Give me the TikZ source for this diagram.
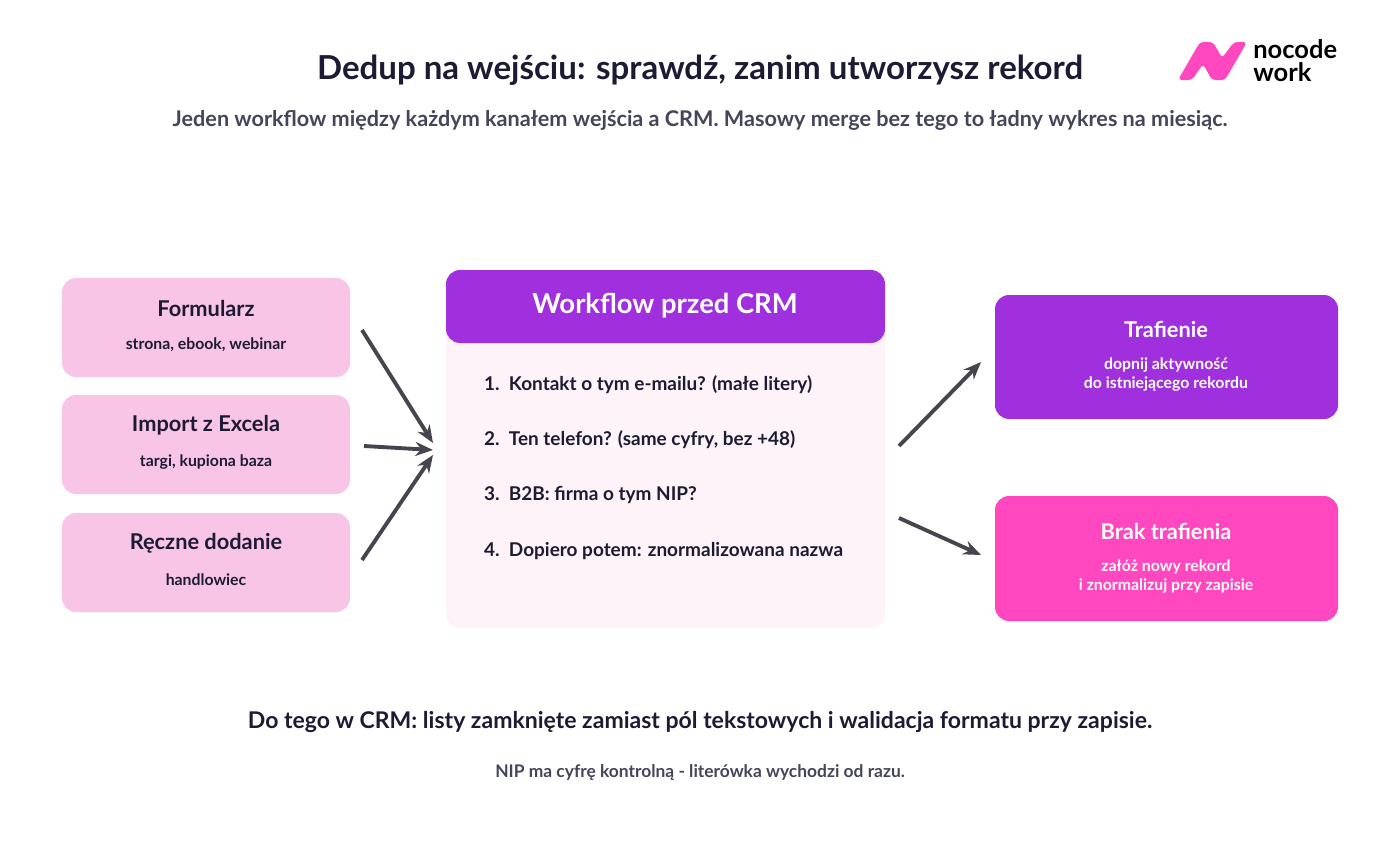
\documentclass[tikz,border=0pt]{standalone}
\usepackage{fontspec}
\setmainfont{Lato}
\usetikzlibrary{arrows.meta}
\definecolor{ink}{HTML}{1C1B33}
\definecolor{grayink}{HTML}{45455A}
\definecolor{softpink}{HTML}{F9C5E6}
\definecolor{bodypink}{HTML}{FDF3F8}
\definecolor{violet}{HTML}{A030DE}
\definecolor{hotpink}{HTML}{FF47BF}
\definecolor{arrowgray}{HTML}{45454F}
\newcommand{\fs}[1]{\fontsize{#1}{1.2\dimexpr #1\relax}\selectfont\bfseries}
\begin{document}
\begin{tikzpicture}[x=0.02cm, y=-0.02cm,
    box/.style={rounded corners=8pt, draw=none},
    flow/.style={-{Stealth[length=10pt,width=8pt]}, line width=2.2pt, draw=arrowgray},
    ttl/.style={font=\fs{12.4pt}, text=ink},
    sub/.style={font=\fs{9pt}, text=ink},
    item/.style={font=\fs{10.8pt}, text=ink, anchor=west}]
  \useasboundingbox[fill=white] (0,0) rectangle (1400,866);
  % header
  \node[font=\fs{18.8pt}, text=ink] (title) at (700,70) {Dedup na wejściu: sprawdź, zanim utworzysz rekord};
  \node[font=\fs{12.3pt}, text=grayink] (subtitle) at (700,120) {Jeden workflow między każdym kanałem wejścia a CRM. Masowy merge bez tego to ładny wykres na miesiąc.};
  % logo
  \fill[hotpink, rounded corners=2pt] (1178,80) -- (1200,42) -- (1213,42) -- (1222,58) -- (1234,42) -- (1247,42)
    -- (1225,80) -- (1212,80) -- (1203,64) -- (1192,80) -- cycle;
  \node[font=\fs{14.5pt}, anchor=west, inner sep=0] (logotop) at (1253,49) {nocode};
  \node[font=\fs{14.5pt}, anchor=west, inner sep=0] (logobot) at (1253,72) {work};
  % sources
  \foreach \n/\y/\t/\s in {form/278/Formularz/{strona, ebook, webinar},
                           excel/395/Import z Excela/{targi, kupiona baza},
                           manual/513/Ręczne dodanie/handlowiec} {
    \fill[box, softpink] (62,\y) rectangle (350,\y+99);
    \node[ttl] (\n) at (206,\y+30) {\t};
    \node[sub] (\n-sub) at (206,\y+67) {\s};
  }
  % workflow
  \fill[box, bodypink] (446,300) rectangle (885,628);
  \fill[box, violet] (446,270) rectangle (885,343);
  \node[font=\fs{15.6pt}, text=white] (wf) at (665,306) {Workflow przed CRM};
  \node[item] (q1) at (478,385) {1.\ \ Kontakt o tym e-mailu? (małe litery)};
  \node[item] (q2) at (478,440) {2.\ \ Ten telefon? (same cyfry, bez +48)};
  \node[item] (q3) at (478,495) {3.\ \ B2B: firma o tym NIP?};
  \node[item] (q4) at (478,551) {4.\ \ Dopiero potem: znormalizowana nazwa};
  % results
  \fill[box, violet] (995,295) rectangle (1338,419);
  \node[ttl, text=white] (hit) at (1166,329) {Trafienie};
  \node[sub, text=white, align=center] (hit-sub) at (1166,375) {dopnij aktywność\\do istniejącego rekordu};
  \fill[box, hotpink] (995,496) rectangle (1338,621);
  \node[ttl, text=white] (miss) at (1166,531) {Brak trafienia};
  \node[sub, text=white, align=center] (miss-sub) at (1166,577) {załóż nowy rekord\\i znormalizuj przy zapisie};
  % connectors
  \coordinate (a1) at (362,330); \coordinate (a2) at (364,446); \coordinate (a3) at (362,560);
  \coordinate (b1) at (433,443); \coordinate (b2) at (433,450); \coordinate (b3) at (433,455);
  \coordinate (c1) at (899,446); \coordinate (c2) at (899,518);
  \coordinate (d1) at (981,362); \coordinate (d2) at (981,555);
  \draw[flow] (a1) -- (b1);
  \draw[flow] (a2) -- (b2);
  \draw[flow] (a3) -- (b3);
  \draw[flow] (c1) -- (d1);
  \draw[flow] (c2) -- (d2);
  % footer
  \node[font=\fs{13.1pt}, text=ink] (note) at (700,722) {Do tego w CRM: listy zamknięte zamiast pól tekstowych i walidacja formatu przy zapisie.};
  \node[font=\fs{9.9pt}, text=grayink] (note2) at (700,773) {NIP ma cyfrę kontrolną - literówka wychodzi od razu.};
\end{tikzpicture}
\end{document}
